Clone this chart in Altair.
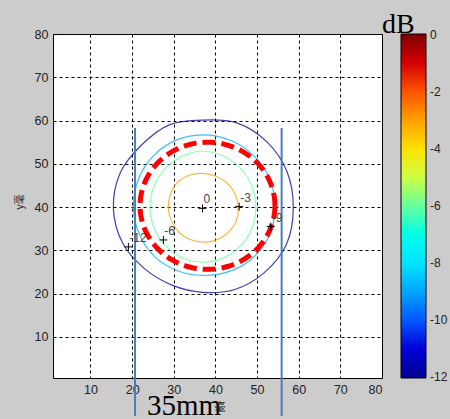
import math
import altair as alt
import pandas as pd

# ---------------- data ----------------
x_domain = [1, 80]
y_domain = [0.5, 80]
tick_values = [10, 20, 30, 40, 50, 60, 70, 80]

# contour levels (dB) and their radii (data units) at 16 angles around the centre
contour_levels = [-12, -9, -6, -3]
contour_angles = [0, 22.5, 45, 67.5, 90, 112.5, 135, 157.5,
                  180, 202.5, 225, 247.5, 270, 292.5, 315, 337.5]
contour_center_x = 36.9
contour_center_y = 39.7
radius_m12 = [21.8, 22.0, 21.8, 21.4, 20.4, 20.9, 20.7, 21.4,
              21.4, 20.8, 19.7, 19.2, 19.4, 20.3, 21.0, 21.8]
radius_m9 = [17.4, 17.5, 17.3, 17.1, 17.0, 17.0, 16.9, 16.8,
             16.6, 16.3, 16.0, 15.6, 15.5, 15.9, 16.6, 17.2]
radius_m6 = [12.8, 12.9, 13.0, 13.1, 13.2, 13.0, 12.8, 12.7,
             12.6, 12.5, 12.4, 12.4, 12.4, 12.5, 12.6, 12.7]
radius_m3 = [8.6, 8.5, 8.3, 8.1, 8.1, 8.3, 8.5, 8.4,
             8.2, 8.0, 7.9, 7.8, 7.8, 8.0, 8.3, 8.6]

# labelled points
marker_x = [36.9, 45.7, 27.5, 53.3, 19.1]
marker_y = [39.7, 40.1, 32.4, 35.5, 30.8]
marker_label = ["0", "-3", "-6", "-9", "-12"]

# red dashed circle (centre and radii, data units)
circle_cx, circle_cy = 38.1, 40.3
circle_rx, circle_ry = 16.2, 14.7

# two vertical blue lines
vline_x = [20.7, 55.9]
vline_top = 58.3
vline_bottom = -8.3

# colour bar
cbar_values = [0, -2, -4, -6, -8, -10, -12]
jet_domain = [-12.02, -10.5, -7.5, -4.5, -1.5, 0.02]
jet_range = ["#000090", "#0000ff", "#00ffff", "#ffff00", "#ff0000", "#800000"]

# ---------------- tables ----------------
radii = {-12: radius_m12, -9: radius_m9, -6: radius_m6, -3: radius_m3}
rows = []
for lev in contour_levels:
    for i, (a, r) in enumerate(zip(contour_angles, radii[lev])):
        t = math.radians(a)
        rows.append({"level": lev, "i": i,
                     "x": contour_center_x + r * math.cos(t),
                     "y": contour_center_y + r * math.sin(t)})
contours = pd.DataFrame(rows)

crow = []
for k in range(0, 361, 4):
    t = math.radians(k)
    crow.append({"i": k, "x": circle_cx + circle_rx * math.cos(t),
                 "y": circle_cy + circle_ry * math.sin(t)})
circle = pd.DataFrame(crow)

markers = pd.DataFrame({"x": marker_x, "y": marker_y, "label": marker_label})
vlines = pd.DataFrame({"x": vline_x, "y1": [vline_top] * 2, "y2": [vline_bottom] * 2})

xs = alt.Scale(domain=x_domain, nice=False, zero=False)
ys = alt.Scale(domain=y_domain, nice=False, zero=False)
ax_common = dict(values=tick_values, grid=True, gridDash=[3, 3], gridColor="black",
                 gridOpacity=1, gridWidth=1, domain=False, ticks=False,
                 labelFont="Liberation Sans", labelFontSize=12.5, labelColor="#222",
                 labelPadding=5, title=None)


def X(field):
    return alt.X(field, type="quantitative", scale=xs, axis=alt.Axis(**ax_common))


def Y(field):
    return alt.Y(field, type="quantitative", scale=ys, axis=alt.Axis(**ax_common))


contour_layer = alt.Chart(contours).mark_line(interpolate="cardinal-closed", strokeWidth=1.2,
                                              opacity=0.75).encode(
    x=X("x"), y=Y("y"), detail="level:N", order=alt.Order("i:Q"),
    color=alt.Color("level:Q",
                    scale=alt.Scale(domain=jet_domain, range=jet_range),
                    legend=alt.Legend(orient="none", legendX=348, legendY=0,
                                      direction="vertical", gradientLength=344,
                                      gradientThickness=25, values=cbar_values,
                                      gradientOpacity=1,
                                      labelExpr="'' + datum.value",
                                      labelFont="Liberation Sans", labelFontSize=12,
                                      labelColor="#222", labelOffset=4,
                                      labelOverlap=False,
                                      gradientStrokeColor="black", gradientStrokeWidth=1,
                                      title=None)),
)

circle_layer = alt.Chart(circle).mark_line(color="#ff0000", strokeWidth=5,
                                           strokeDash=[13, 6]).encode(
    x=X("x"), y=Y("y"), order=alt.Order("i:Q"))

marker_layer = alt.Chart(markers).mark_point(shape="M-1,0L1,0M0,-1L0,1", size=64,
                                             filled=False, stroke="black",
                                             strokeWidth=1, opacity=1).encode(
    x=X("x"), y=Y("y"))

label_layer = alt.Chart(markers).mark_text(align="left", baseline="bottom", dx=1, dy=-2,
                                           fontSize=12, font="Liberation Sans",
                                           color="#444").encode(
    x=X("x"), y=Y("y"), text="label:N")

vline_layer = alt.Chart(vlines).mark_rule(color="#4a7ebb", strokeWidth=2).encode(
    x=X("x"), y=Y("y1"), y2="y2:Q")

db_text = alt.Chart(pd.DataFrame({"t": ["dB"]})).mark_text(
    font="Liberation Serif", fontSize=28, align="left", baseline="alphabetic",
    color="black").encode(x=alt.value(329), y=alt.value(-1), text="t:N")

mm_text = alt.Chart(pd.DataFrame({"t": ["35mm"]})).mark_text(
    font="Liberation Serif", fontSize=29, align="left", baseline="alphabetic",
    color="black").encode(x=alt.value(94), y=alt.value(381), text="t:N")

xlab_text = alt.Chart(pd.DataFrame({"t": ["毫"]})).mark_text(
    font="Noto Sans CJK SC", fontSize=11, align="center", baseline="alphabetic",
    color="#222").encode(x=alt.value(167), y=alt.value(377), text="t:N")

ylab_text = alt.Chart(pd.DataFrame({"t": ["y毫"]})).mark_text(
    font="Noto Sans CJK SC", fontSize=10, align="center", baseline="middle",
    angle=270, color="#222").encode(x=alt.value(-33), y=alt.value(168), text="t:N")

chart = alt.layer(contour_layer, circle_layer, vline_layer, marker_layer, label_layer,
                  db_text, mm_text, xlab_text, ylab_text).properties(
    width=329, height=344, autosize="none",
    padding={"left": 53, "top": 34, "right": 68, "bottom": 41},
    background="#cccccc",
).configure_view(stroke="black", strokeWidth=1, fill="white")

chart.save("out.html", embed_options={"renderer": "svg", "actions": False})
